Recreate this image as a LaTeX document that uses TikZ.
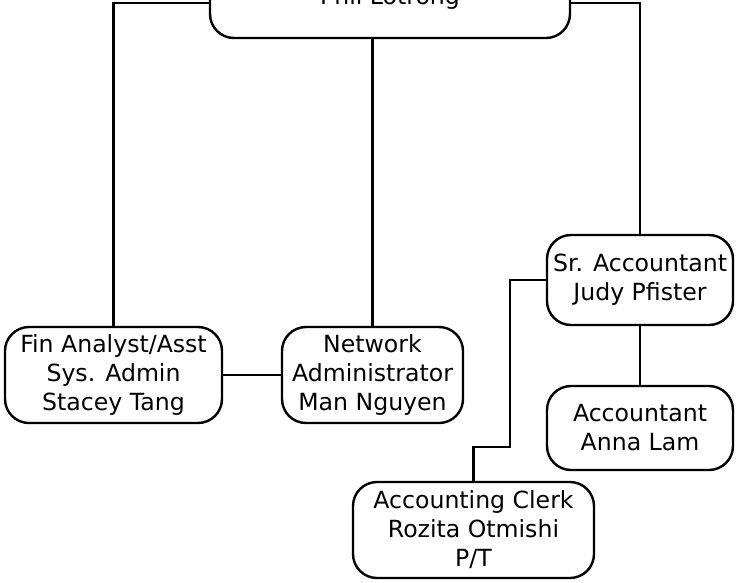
\documentclass[tikz,border=0pt]{standalone}
\usepackage{fontspec}
\setmainfont{DejaVu Sans}
\begin{document}
\begin{tikzpicture}[
        x=1pt, y=-1pt,
        person/.style={draw=black, line width=2.4pt, rounded corners=24pt, inner sep=0pt, align=center, font=\fontsize{23.6}{29}\selectfont},
        link/.style={draw=black, line width=2.4pt}
    ]
    \useasboundingbox (0,0) rectangle (737,582);

    % Staff
    \node[person, minimum width=360, minimum height=70, text depth=14pt] (phil) at (390,3) {Phil Lotrong};
    \node[person, minimum width=217, minimum height=96] (fin) at (113.5,375) {Fin Analyst/Asst\\Sys. Admin\\Stacey Tang};
    \node[person, minimum width=181, minimum height=96] (net) at (372.5,375) {Network\\Administrator\\Man Nguyen};
    \node[person, minimum width=186, minimum height=90] (sr) at (640,280) {Sr. Accountant\\Judy Pfister};
    \node[person, minimum width=186, minimum height=84] (acc) at (640,428) {Accountant\\Anna Lam};
    \node[person, minimum width=241, minimum height=96] (clerk) at (473.5,530) {Accounting Clerk\\Rozita Otmishi\\P/T};
    \coordinate (bend) at (510,447);

    % Reporting lines
    \draw[link] (phil.west) -| (fin.north);
    \draw[link] (phil.east) -| (sr.north);
    \draw[link] (net.north |- phil.south) -- (net.north);
    \draw[link] (fin.east) -- (net.west);
    \draw[link] (sr.south) -- (acc.north);
    \draw[link] (sr.west) -| (bend) -| (clerk.north);

\end{tikzpicture}
\end{document}
